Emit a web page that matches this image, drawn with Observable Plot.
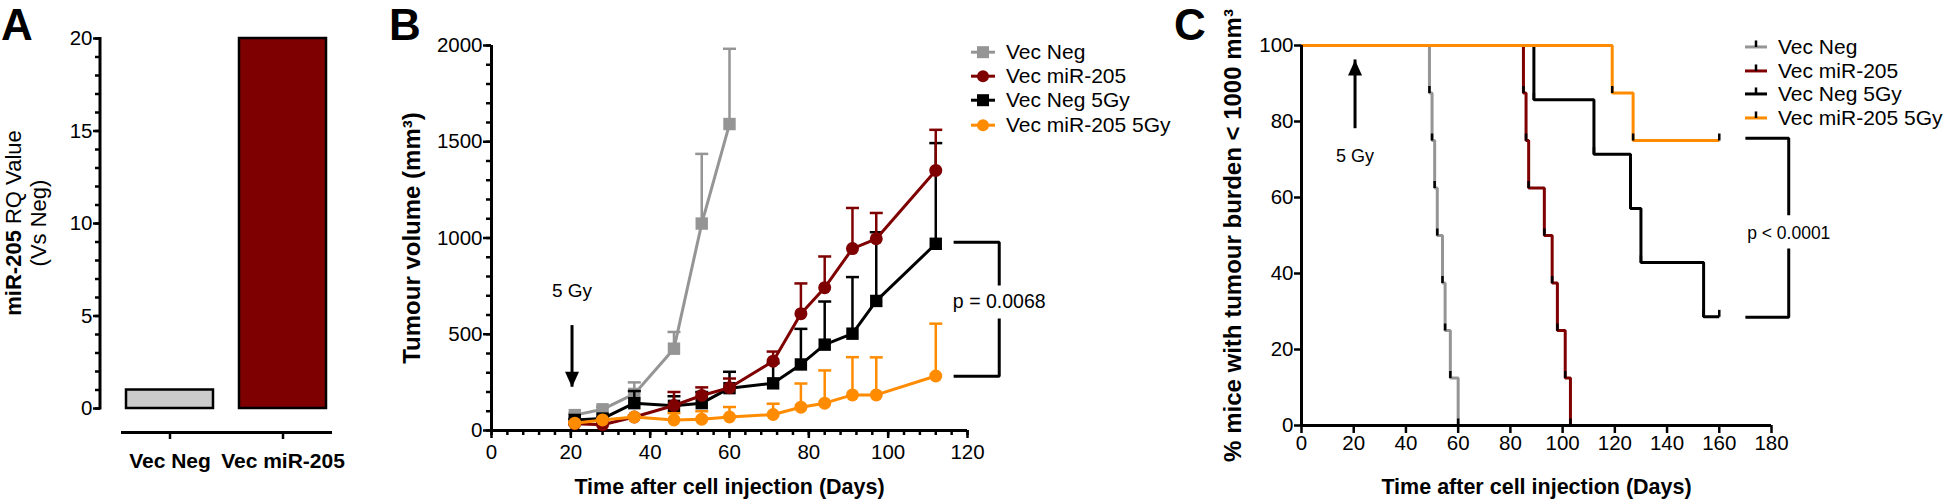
<!DOCTYPE html>
<html>
<head>
<meta charset="utf-8">
<script src="https://cdn.jsdelivr.net/npm/d3@7"></script>
<script src="https://cdn.jsdelivr.net/npm/@observablehq/plot@0.6"></script>
<style>
  html, body { margin: 0; padding: 0; background: #fff; }
  #fig { position: relative; width: 1946px; height: 501px; overflow: hidden; background: #fff;
         font-family: "Liberation Sans", Arial, Helvetica, sans-serif; color: #000; }
  #fig > svg { position: absolute; left: 0; top: 0; }
</style>
</head>
<body>
<div id="fig"></div>
<script>
// ---------------- DATA ----------------
// Panel A
const barCategories = ["Vec Neg", "Vec miR-205"];
const barValues = [1, 20];
const barFills = ["#cccccc", "#7f0000"];
const barTicksMajor = [0, 5, 10, 15, 20];
const barTicksMinor = d3.range(0, 21, 1);

// Panel B
const seriesNames = ["Vec Neg", "Vec miR-205", "Vec Neg 5Gy", "Vec miR-205 5Gy"];
const seriesColors = ["#959595", "#7f0000", "#000000", "#ff8c00"];
const seriesSymbols = ["square", "circle", "square", "circle"];
const tumourDays = [21, 28, 36, 46, 53, 60, 71, 78, 84, 91, 97, 112];
const vecNegMean   = [80, 110, 190, 425, 1075, 1592];
const vecNegSem    = [8, 12, 60, 87, 362, 391];
const vecMirMean   = [35, 30, 70, 130, 182, 222, 360, 607, 742, 945, 996, 1351];
const vecMirSem    = [5, 5, 8, 70, 42, 48, 50, 157, 162, 211, 134, 211];
const vecNeg5Mean  = [55, 62, 142, 128, 142, 220, 245, 343, 446, 503, 673, 970];
const vecNeg5Sem   = [5, 5, 63, 50, 58, 85, 105, 185, 224, 294, 357, 523];
const vecMir5Mean  = [38, 55, 70, 55, 59, 70, 83, 121, 142, 185, 185, 283];
const vecMir5Sem   = [5, 5, 5, 35, 41, 52, 56, 123, 170, 196, 195, 272];
const tumourXTicks = d3.range(0, 121, 20);
const tumourXMinor = d3.range(0, 121, 4);
const tumourYTicks = d3.range(0, 2001, 500);
const tumourYMinor = d3.range(0, 2001, 100);
const bArrow = {label: "5 Gy", day: 20.3, from: 545, to: 225, labelY: 727};
const bBracket = {xStart: 116.5, xLine: 128, yTop: 978, yBottom: 282, gapTop: 753, gapBottom: 582, label: "p = 0.0068", labelY: 667};

// Panel C (Kaplan-Meier)
const survNegDays  = [0, 49, 50, 51, 52, 54, 55, 57, 60];
const survNegPct   = [100, 87.5, 75, 62.5, 50, 37.5, 25, 12.5, 0];
const survMirDays  = [0, 85, 86, 87, 93, 96, 98, 101, 103];
const survMirPct   = [100, 87.5, 75, 62.5, 50, 37.5, 25, 12.5, 0];
const survNeg5Days = [0, 89, 112, 126, 130, 154, 160];
const survNeg5Pct  = [100, 85.7, 71.4, 57.1, 42.9, 28.6, 28.6];
const survMir5Days = [0, 119, 127, 160];
const survMir5Pct  = [100, 87.5, 75, 75];
const survXTicks = d3.range(0, 181, 20);
const survYTicks = d3.range(0, 101, 20);
const cArrow = {label: "5 Gy", day: 20.5, from: 78.1, to: 96.2, labelY: 70.8};
const cBracket = {xStart: 170, xLine: 186.6, yTop: 75.6, yBottom: 28.5, gapTop: 55.3, gapBottom: 46.6, label: "p < 0.0001", labelY: 50.6};

// ---------------- SETUP ----------------
const W = 1946, H = 501;
const FONT = '"Liberation Sans", Arial, Helvetica, sans-serif';
const TICK_FS = 20.5;
const fig = document.getElementById("fig");
const baseStyle = {fontFamily: FONT, fontSize: TICK_FS + "px", background: "transparent", color: "#000", overflow: "visible"};

// custom symbols
const capSymbol = {draw(ctx, size) { const w = Math.sqrt(size / Math.PI); ctx.moveTo(-w, 0); ctx.lineTo(w, 0); }};
const vTickSymbol = {draw(ctx) { ctx.moveTo(0, 0); ctx.lineTo(0, -7); }};
const triDown = {draw(ctx) { ctx.moveTo(0, 0); ctx.lineTo(-7, -15.5); ctx.lineTo(7, -15.5); ctx.closePath(); }};
const triUp = {draw(ctx) { ctx.moveTo(0, 0); ctx.lineTo(-7, 15.5); ctx.lineTo(7, 15.5); ctx.closePath(); }};

function bracketRows(b) {
  return [
    {g: 0, x: b.xStart, y: b.yTop}, {g: 0, x: b.xLine, y: b.yTop}, {g: 0, x: b.xLine, y: b.gapTop},
    {g: 1, x: b.xLine, y: b.gapBottom}, {g: 1, x: b.xLine, y: b.yBottom}, {g: 1, x: b.xStart, y: b.yBottom}
  ];
}

// ---------------- PANEL A ----------------
const barRows = barCategories.map((c, i) => ({cat: c, value: barValues[i]}));
const A = Plot.plot({
  width: W, height: H,
  marginLeft: 100, marginRight: W - 352, marginTop: 38, marginBottom: H - 408,
  x: {domain: barCategories, padding: 0.226},
  y: {domain: [0, 20]},
  color: {domain: barCategories, range: barFills},
  style: baseStyle,
  marks: [
    Plot.barY(barRows, {x: "cat", y: "value", fill: "cat", stroke: "#000", strokeWidth: 2.5}),
    Plot.axisY({ticks: barTicksMajor, tickSize: 7, tickPadding: 1, fontSize: TICK_FS, strokeWidth: 2.5, label: null}),
    Plot.axisY({ticks: barTicksMinor, tickSize: 5, fill: "none", strokeWidth: 2.5, label: null}),
    Plot.ruleY([0], {dy: 24, insetLeft: 21, insetRight: 20, strokeWidth: 3}),
    Plot.axisX({tickSize: 7, tickPadding: 14, dy: 24, fontSize: 21, fontWeight: "bold", strokeWidth: 2.5, label: null})
  ]
});
fig.appendChild(A);
{
  const ya = A.scale("y");
  d3.select(A).append("line")
    .attr("x1", 100).attr("x2", 100)
    .attr("y1", ya.apply(0) + 1.5).attr("y2", ya.apply(20) - 1)
    .attr("stroke", "#000").attr("stroke-width", 3);
}

// ---------------- PANEL B ----------------
const tumourMeans = [vecNegMean, vecMirMean, vecNeg5Mean, vecMir5Mean];
const tumourSems = [vecNegSem, vecMirSem, vecNeg5Sem, vecMir5Sem];
const tumourRows = seriesNames.flatMap((s, k) =>
  tumourMeans[k].map((m, i) => ({series: s, day: tumourDays[i], mean: m, upper: m + tumourSems[k][i]})));

const bSeriesMarks = [];
for (const k of [0, 2, 1, 3]) {
  const rows = tumourRows.filter(r => r.series === seriesNames[k]);
  const c = seriesColors[k];
  bSeriesMarks.push(
    Plot.ruleX(rows, {x: "day", y1: "mean", y2: "upper", stroke: c, strokeWidth: 2.5}),
    Plot.dot(rows, {x: "day", y: "upper", symbol: capSymbol, r: 6.5, stroke: c, strokeWidth: 2.5, fill: "none"}),
    Plot.line(rows, {x: "day", y: "mean", stroke: c, strokeWidth: 3}),
    Plot.dot(rows, {x: "day", y: "mean", symbol: seriesSymbols[k], r: seriesSymbols[k] === "square" ? 7 : 6.5, fill: c, stroke: "none"})
  );
}

const B = Plot.plot({
  width: W, height: H,
  marginLeft: 491, marginRight: W - 967, marginTop: 45, marginBottom: H - 430,
  x: {domain: [0, 120]},
  y: {domain: [0, 2000]},
  style: baseStyle,
  marks: [
    Plot.ruleX([0], {strokeWidth: 3}),
    Plot.ruleY([0], {strokeWidth: 3}),
    Plot.axisY({ticks: tumourYTicks, tickSize: 8, tickPadding: 1, fontSize: TICK_FS, tickFormat: "d", strokeWidth: 2.5, label: null}),
    Plot.axisY({ticks: tumourYMinor, tickSize: 5, fill: "none", strokeWidth: 2.5, label: null}),
    Plot.axisX({ticks: tumourXTicks, tickSize: 8, tickPadding: 6, fontSize: TICK_FS, tickFormat: "d", strokeWidth: 2.5, label: null}),
    Plot.axisX({ticks: tumourXMinor, tickSize: 5, fill: "none", strokeWidth: 2.5, label: null}),
    Plot.text(["Time after cell injection (Days)"], {text: d => d, frameAnchor: "bottom", dy: 57, lineAnchor: "middle", textAnchor: "middle", fontSize: 21.5, fontWeight: "bold"}),
    Plot.text(["Tumour volume (mm³)"], {text: d => d, frameAnchor: "left", dx: -79, rotate: -90, lineAnchor: "middle", textAnchor: "middle", fontSize: 24, fontWeight: "bold"}),
    ...bSeriesMarks,
    Plot.ruleX([bArrow], {x: "day", y1: "from", y2: "to", strokeWidth: 3}),
    Plot.dot([bArrow], {x: "day", y: "to", symbol: triDown, fill: "#000", stroke: "none"}),
    Plot.text([bArrow], {x: "day", y: "labelY", text: "label", fontSize: 19}),
    Plot.line(bracketRows(bBracket), {x: "x", y: "y", z: "g", stroke: "#000", strokeWidth: 3, strokeLinejoin: "miter", strokeLinecap: "butt"}),
    Plot.text([bBracket], {x: "xLine", y: "labelY", text: "label", fontSize: 19.5})
  ]
});
fig.appendChild(B);

// ---------------- PANEL C ----------------
const survDays = [survNegDays, survMirDays, survNeg5Days, survMir5Days];
const survPct = [survNegPct, survMirPct, survNeg5Pct, survMir5Pct];
const survRows = seriesNames.flatMap((s, k) => survDays[k].map((d, i) => ({series: s, day: d, pct: survPct[k][i]})));
const cLineMarks = [0, 1, 2, 3].map(k =>
  Plot.line(survRows.filter(r => r.series === seriesNames[k]),
    {x: "day", y: "pct", curve: "step-after", stroke: seriesColors[k], strokeWidth: 3, strokeLinejoin: "miter", strokeLinecap: "butt"}));

const C = Plot.plot({
  width: W, height: H,
  marginLeft: 1301, marginRight: W - 1771, marginTop: 45, marginBottom: H - 425,
  x: {domain: [0, 180]},
  y: {domain: [0, 100]},
  style: baseStyle,
  marks: [
    ...cLineMarks,
    Plot.dot(survRows.filter(r => r.day > 0), {x: "day", y: "pct", symbol: vTickSymbol, stroke: "#000", strokeWidth: 2.5, fill: "none"}),
    Plot.ruleX([0], {strokeWidth: 3}),
    Plot.ruleY([0], {strokeWidth: 3}),
    Plot.axisY({ticks: survYTicks, tickSize: 7, tickPadding: 1, fontSize: TICK_FS, strokeWidth: 2.5, label: null}),
    Plot.axisX({ticks: survXTicks, tickSize: 8, tickPadding: 2, fontSize: TICK_FS, strokeWidth: 2.5, label: null}),
    Plot.text(["Time after cell injection (Days)"], {text: d => d, frameAnchor: "bottom", dy: 62, lineAnchor: "middle", textAnchor: "middle", fontSize: 21.5, fontWeight: "bold"}),
    Plot.text(["% mice with tumour burden < 1000 mm³"], {text: d => d, frameAnchor: "left", dx: -68, rotate: -90, lineAnchor: "middle", textAnchor: "middle", fontSize: 24, fontWeight: "bold"}),
    Plot.ruleX([cArrow], {x: "day", y1: "from", y2: "to", strokeWidth: 3}),
    Plot.dot([cArrow], {x: "day", y: "to", symbol: triUp, fill: "#000", stroke: "none"}),
    Plot.text([cArrow], {x: "day", y: "labelY", text: "label", fontSize: 18}),
    Plot.line(bracketRows(cBracket), {x: "x", y: "y", z: "g", stroke: "#000", strokeWidth: 3, strokeLinejoin: "miter", strokeLinecap: "butt"}),
    Plot.text([cBracket], {x: "xLine", y: "labelY", text: "label", fontSize: 17.5})
  ]
});
fig.appendChild(C);

// ---------------- OVERLAY: panel letters & A title ----------------
const ov = d3.select(fig).append("svg").attr("width", W).attr("height", H)
  .attr("font-family", FONT).style("overflow", "visible");
ov.append("text").attr("x", 1).attr("y", 40).attr("font-size", 44).attr("font-weight", "bold").text("A");
ov.append("text").attr("x", 389).attr("y", 40).attr("font-size", 44).attr("font-weight", "bold").text("B");
ov.append("text").attr("x", 1174).attr("y", 40).attr("font-size", 44).attr("font-weight", "bold").text("C");
{
  const g = ov.append("g").attr("transform", "translate(21,223) rotate(-90)").attr("font-size", 22).attr("text-anchor", "middle");
  const t1 = g.append("text").attr("x", 0).attr("y", 0);
  t1.append("tspan").attr("font-weight", "bold").text("miR-205");
  t1.append("tspan").text(" RQ Value");
  g.append("text").attr("x", 0).attr("y", 24.5).text("(Vs Neg)");
}

// ---------------- LEGENDS ----------------
function legend(left, top, rowH, symW, gap, drawSym) {
  const div = d3.select(fig).append("div")
    .style("position", "absolute").style("left", left + "px").style("top", top + "px")
    .style("font-size", "21px").style("font-family", FONT).style("line-height", rowH + "px");
  seriesNames.forEach((name, k) => {
    const row = div.append("div").style("display", "flex").style("align-items", "center")
      .style("height", rowH + "px").style("white-space", "nowrap");
    const s = row.append("svg").attr("width", symW).attr("height", rowH).style("overflow", "visible").style("flex", "none");
    drawSym(s, k, symW, rowH);
    row.append("span").style("margin-left", gap + "px").text(name);
  });
}
legend(971, 39.5, 24.4, 24, 11, (s, k, w, h) => {
  const c = seriesColors[k], cy = h / 2;
  s.append("line").attr("x1", 0).attr("x2", w).attr("y1", cy).attr("y2", cy).attr("stroke", c).attr("stroke-width", 3);
  if (seriesSymbols[k] === "square") s.append("rect").attr("x", w / 2 - 6).attr("y", cy - 6).attr("width", 12).attr("height", 12).attr("fill", c);
  else s.append("circle").attr("cx", w / 2).attr("cy", cy).attr("r", 6).attr("fill", c);
});
legend(1745, 34.7, 23.9, 22, 11, (s, k, w, h) => {
  const c = seriesColors[k], cy = h / 2;
  s.append("line").attr("x1", 0).attr("x2", w).attr("y1", cy).attr("y2", cy).attr("stroke", c).attr("stroke-width", 3);
  s.append("line").attr("x1", w / 2).attr("x2", w / 2).attr("y1", cy - 6.5).attr("y2", cy).attr("stroke", "#000").attr("stroke-width", 2.5);
});
</script>
</body>
</html>
